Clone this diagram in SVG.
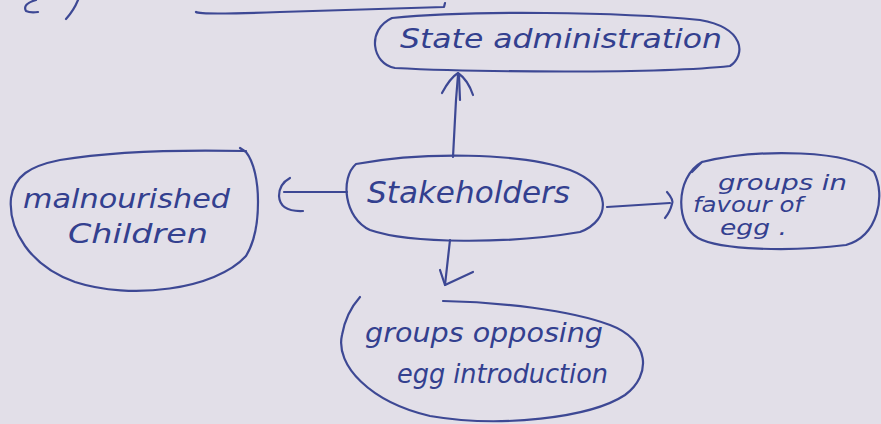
<svg xmlns="http://www.w3.org/2000/svg" width="881" height="424" viewBox="0 0 881 424">
<style>
.ink{fill:none;stroke:#3d4894;stroke-width:2.2;stroke-linecap:round;stroke-linejoin:round}
.t{font-family:"DejaVu Sans","Liberation Sans",sans-serif;font-style:italic;fill:#33408f}
</style>
<rect x="0" y="0" width="881" height="424" fill="#e2dfe8"/>
<g id="header">
<path class="ink" d="M36,0 Q22,4 26,11 Q30,13 38,12"/>
<path class="ink" d="M78,0 Q74,10 66,19"/>
<path class="ink" d="M196,12 Q200,15 280,12 L444,7 L445,3"/>
</g>
<g id="state-administration">
<path class="ink" d="M392,18 C470,10 620,12 700,20 C745,28 746,55 730,66 C660,74 470,72 395,68 C372,64 366,30 392,18 Z"/>
<text class="t" x="400" y="48" font-size="26" textLength="322" lengthAdjust="spacingAndGlyphs">State administration</text>
</g>
<g id="stakeholders">
<path class="ink" d="M356,164 C420,152 520,152 570,170 C612,186 612,220 580,232 C510,244 410,244 370,230 C344,218 340,178 356,164 Z"/>
<text class="t" x="367" y="203" font-size="30" textLength="203" lengthAdjust="spacingAndGlyphs">Stakeholders</text>
</g>
<g id="malnourished-children">
<path class="ink" d="M240,148 L246,152 C262,172 262,230 246,256 C215,290 130,300 75,282 C30,266 8,230 11,198 C14,176 30,166 60,160 C120,150 200,150 246,151"/>
<text class="t" x="23" y="208" font-size="26" textLength="207" lengthAdjust="spacingAndGlyphs">malnourished</text>
<text class="t" x="68" y="243" font-size="26" textLength="140" lengthAdjust="spacingAndGlyphs">Children</text>
</g>
<g id="groups-in-favour">
<path class="ink" d="M692,172 L702,162 C760,148 850,150 874,172 C886,196 878,236 846,245 C790,252 720,250 698,238 C676,226 674,178 702,162"/>
<text class="t" x="718" y="190" font-size="22" textLength="129" lengthAdjust="spacingAndGlyphs">groups in</text>
<text class="t" x="693" y="212" font-size="22" textLength="110" lengthAdjust="spacingAndGlyphs">favour of</text>
<text class="t" x="720" y="235" font-size="22" textLength="67" lengthAdjust="spacingAndGlyphs">egg .</text>
</g>
<g id="groups-opposing">
<path class="ink" d="M443,301 C500,302 570,310 610,325 C650,340 652,375 625,395 C590,418 500,428 430,416 C370,402 335,365 342,335 C345,318 352,306 360,297"/>
<text class="t" x="365" y="342" font-size="26" textLength="238" lengthAdjust="spacingAndGlyphs">groups opposing</text>
<text class="t" x="397" y="383" font-size="26" textLength="211" lengthAdjust="spacingAndGlyphs">egg introduction</text>
</g>
<g id="connectors">
<path class="ink" d="M453,157 L456,100 L458,75"/>
<path class="ink" d="M460,100 L459,76"/>
<path class="ink" d="M442,93 Q450,78 458,73 Q468,80 473,95"/>
<path class="ink" d="M347,192 L284,192"/>
<path class="ink" d="M290,178 Q279,184 279,196 Q280,212 303,211"/>
<path class="ink" d="M607,207 L670,203"/>
<path class="ink" d="M667,192 Q674,200 672,204 Q670,212 665,218"/>
<path class="ink" d="M450,240 L445,285"/>
<path class="ink" d="M440,270 L445,285 L473,272"/>
</g>
</svg>
